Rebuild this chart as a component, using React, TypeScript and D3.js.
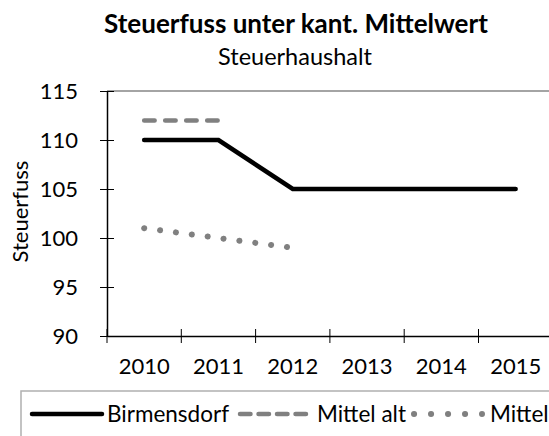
import React, { useRef, useEffect } from 'react';
import * as d3 from 'd3';

const years = ['2010', '2011', '2012', '2013', '2014', '2015'];
const birmensdorf = [110, 110, 105, 105, 105, 105];
const mittelAlt = [112, 112];
const mittel = [101, 100, 99];
const yTicks = [90, 95, 100, 105, 110, 115];

const W = 549;
const H = 436;
const FONT = 'Lato, "Open Sans", sans-serif';

export default function App() {
  const svgRef = useRef<SVGSVGElement>(null);

  useEffect(() => {
    const svg = d3.select(svgRef.current);
    svg.selectAll('*').remove();

    const left = 107;
    const top = 91;
    const bottom = 336;
    const step = 74.3;

    const x = d3
      .scaleBand<string>()
      .domain(years)
      .range([left, left + step * years.length]);
    const y = d3.scaleLinear().domain([90, 115]).range([bottom, top]);

    // top border of plot
    svg
      .append('line')
      .attr('x1', left)
      .attr('x2', W)
      .attr('y1', top)
      .attr('y2', top)
      .attr('stroke', '#868686')
      .attr('stroke-width', 1.5);

    // y axis
    const yAxis = d3
      .axisLeft(y)
      .tickValues(yTicks)
      .tickSizeInner(7)
      .tickSizeOuter(0)
      .tickPadding(22);
    const gy = svg
      .append('g')
      .attr('transform', `translate(${left},0)`)
      .call(yAxis);
    gy.select('.domain').attr('stroke', '#000').attr('stroke-width', 1.5);
    gy.selectAll('.tick line')
      .attr('x1', -7)
      .attr('x2', 7)
      .attr('stroke', '#000');
    gy.selectAll('.tick text')
      .attr('font-family', FONT)
      .attr('font-size', 22)
      .attr('fill', '#000');

    // x axis
    const xAxis = d3
      .axisBottom(x)
      .tickSize(0)
      .tickPadding(22);
    const gx = svg
      .append('g')
      .attr('transform', `translate(0,${bottom})`)
      .call(xAxis);
    gx.select('.domain').attr('stroke', '#000').attr('stroke-width', 1.5);
    gx.selectAll('.tick text')
      .attr('font-family', FONT)
      .attr('font-size', 22)
      .attr('fill', '#000');
    // tick marks between categories
    gx.selectAll('.sep')
      .data(years)
      .join('line')
      .attr('class', 'sep')
      .attr('x1', (d) => x(d)!)
      .attr('x2', (d) => x(d)!)
      .attr('y1', -7)
      .attr('y2', 7)
      .attr('stroke', '#000')
      .attr('stroke-width', 1);

    const px = (i: number) => x(years[i])! + x.bandwidth() / 2;
    const ln = d3
      .line<number>()
      .x((_, i) => px(i))
      .y((d) => y(d));

    svg
      .append('path')
      .attr('d', ln(mittelAlt))
      .attr('fill', 'none')
      .attr('stroke', '#808080')
      .attr('stroke-width', 4.5)
      .attr('stroke-linecap', 'round')
      .attr('stroke-dasharray', '10.5,10.5');

    svg
      .append('path')
      .attr('d', ln(mittel))
      .attr('fill', 'none')
      .attr('stroke', '#808080')
      .attr('stroke-width', 6)
      .attr('stroke-linecap', 'round')
      .attr('stroke-dasharray', '0.1,15.9');

    svg
      .append('path')
      .attr('d', ln(birmensdorf))
      .attr('fill', 'none')
      .attr('stroke', '#000')
      .attr('stroke-width', 4.5)
      .attr('stroke-linecap', 'round')
      .attr('stroke-linejoin', 'miter');

    // titles
    svg
      .append('text')
      .attr('x', 296)
      .attr('y', 33)
      .attr('text-anchor', 'middle')
      .attr('font-family', FONT)
      .attr('font-weight', 'bold')
      .attr('font-size', 26)
      .text('Steuerfuss unter kant. Mittelwert');
    svg
      .append('text')
      .attr('x', 295)
      .attr('y', 65)
      .attr('text-anchor', 'middle')
      .attr('font-family', FONT)
      .attr('font-size', 23.5)
      .text('Steuerhaushalt');
    svg
      .append('text')
      .attr('transform', `translate(28,${(top + bottom) / 2 - 2}) rotate(-90)`)
      .attr('text-anchor', 'middle')
      .attr('font-family', FONT)
      .attr('font-size', 22)
      .text('Steuerfuss');

    // legend (cut at the right edge, as in the original)
    svg
      .append('rect')
      .attr('x', 21)
      .attr('y', 391)
      .attr('width', 600)
      .attr('height', 100)
      .attr('fill', 'none')
      .attr('stroke', '#b0b0b0')
      .attr('stroke-width', 1.5);

    const legend = [
      { name: 'Birmensdorf', x0: 32, x1: 102, tx: 107, color: '#000', dash: null, w: 4.5 },
      { name: 'Mittel alt', x0: 240, x1: 309, tx: 317, color: '#808080', dash: '10.5,8', w: 4.5 },
      { name: 'Mittel', x0: 414, x1: 482, tx: 490, color: '#808080', dash: '0.1,16.9', w: 6 },
    ];
    const lg = svg
      .selectAll('.lg')
      .data(legend)
      .join('g')
      .attr('class', 'lg');
    lg.append('line')
      .attr('x1', (d) => d.x0)
      .attr('x2', (d) => d.x1)
      .attr('y1', 414)
      .attr('y2', 414)
      .attr('stroke', (d) => d.color)
      .attr('stroke-width', (d) => d.w)
      .attr('stroke-linecap', 'round')
      .attr('stroke-dasharray', (d) => d.dash);
    lg.append('text')
      .attr('x', (d) => d.tx)
      .attr('y', 422)
      .attr('font-family', FONT)
      .attr('font-size', 22.5)
      .text((d) => d.name);
  }, []);

  return (
    <div style={{ position: 'absolute', left: 0, top: 0, width: W, height: H, overflow: 'hidden', background: '#fff' }}>
      <svg ref={svgRef} width={W} height={H} />
    </div>
  );
}
